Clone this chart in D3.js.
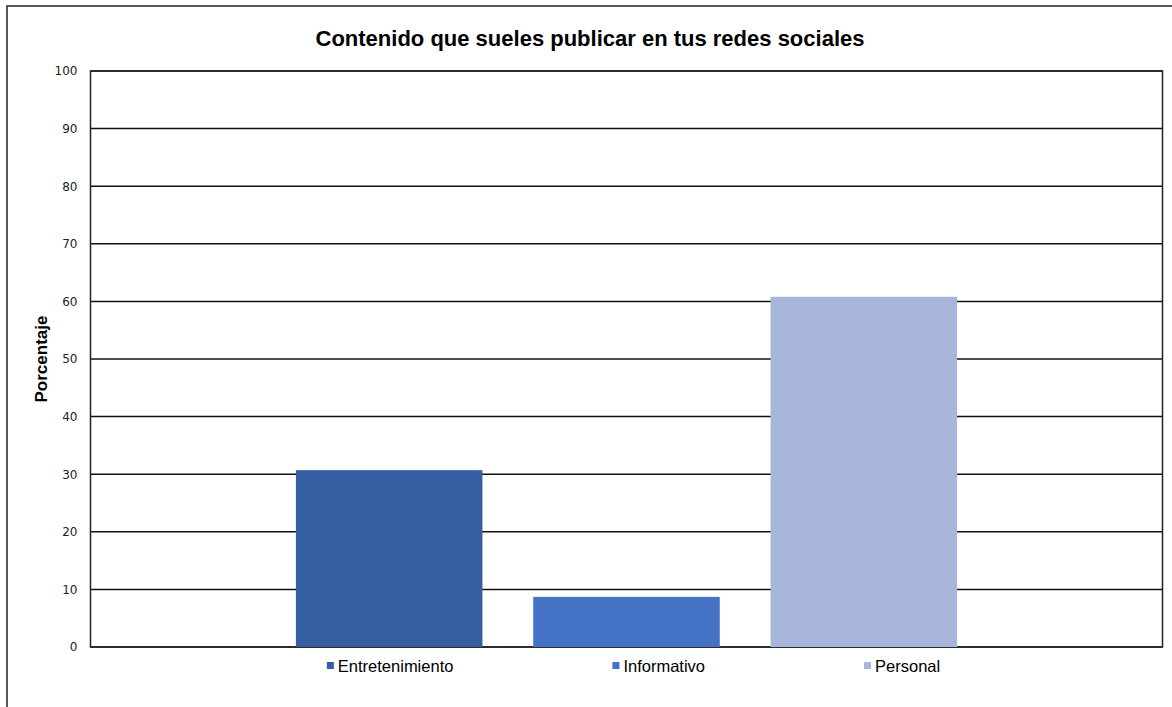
<!DOCTYPE html>
<html>
<head>
<meta charset="utf-8">
<script src="https://cdn.jsdelivr.net/npm/d3@7"></script>
<style>
  html, body { margin: 0; padding: 0; background: #fff; }
  svg { display: block; font-family: "Liberation Sans", Arial, sans-serif; }
</style>
</head>
<body>
<svg id="chart" width="1172" height="707"></svg>
<script>
// Survey results: type of content usually posted on social networks (%)
const series = ["Entretenimiento", "Informativo", "Personal"];
const values = [30.7, 8.7, 60.8];
const colors = ["#365EA2", "#4472C4", "#A8B6DB"];
const yTicks = [0, 10, 20, 30, 40, 50, 60, 70, 80, 90, 100];
const title = "Contenido que sueles publicar en tus redes sociales";
const yLabel = "Porcentaje";

const W = 1172, H = 707;
const plot = { left: 90.5, top: 71, right: 1162.5, bottom: 647 };

const svg = d3.select("#chart");

// Outer chart frame (runs past the right and bottom edges of the page)
svg.append("rect")
  .attr("x", 7).attr("y", 6)
  .attr("width", W + 20).attr("height", H + 20)
  .attr("fill", "none").attr("stroke", "#222").attr("stroke-width", 1.5);

const y = d3.scaleLinear().domain([0, 100]).range([plot.bottom, plot.top]);
const x = d3.scaleBand()
  .domain(series)
  .range([plot.left + 180, plot.right - 180])
  .paddingInner(0.214)
  .paddingOuter(0.107);

// Horizontal gridlines
svg.append("g")
  .selectAll("line")
  .data(yTicks)
  .join("line")
  .attr("x1", plot.left).attr("x2", plot.right)
  .attr("y1", d => y(d)).attr("y2", d => y(d))
  .attr("stroke", "#111").attr("stroke-width", 1.5);

// Plot area border
svg.append("rect")
  .attr("x", plot.left).attr("y", plot.top)
  .attr("width", plot.right - plot.left).attr("height", plot.bottom - plot.top)
  .attr("fill", "none").attr("stroke", "#222").attr("stroke-width", 1.5);

// Y axis tick labels
const yAxis = d3.axisLeft(y).tickValues(yTicks).tickSize(0).tickPadding(13);
const gy = svg.append("g")
  .attr("transform", `translate(${plot.left},0)`)
  .call(yAxis);
gy.select(".domain").remove();
gy.selectAll("text")
  .attr("font-family", "'DejaVu Sans', Verdana, sans-serif")
  .attr("font-size", 12).attr("fill", "#222");

// Bars
svg.append("g")
  .selectAll("rect")
  .data(series)
  .join("rect")
  .attr("x", d => x(d))
  .attr("width", x.bandwidth())
  .attr("y", (d, i) => y(values[i]))
  .attr("height", (d, i) => y(0) - y(values[i]))
  .attr("fill", (d, i) => colors[i]);

// Title
svg.append("text")
  .attr("x", 590).attr("y", 46)
  .attr("text-anchor", "middle")
  .attr("font-size", 22).attr("font-weight", "bold").attr("fill", "#000")
  .text(title);

// Y axis title
svg.append("text")
  .attr("transform", `translate(46.5,${(plot.top + plot.bottom) / 2}) rotate(-90)`)
  .attr("text-anchor", "middle")
  .attr("font-size", 17).attr("font-weight", "bold").attr("fill", "#000")
  .text(yLabel);

// Legend: items separated by a constant gap, centred below the plot
const legend = svg.append("g");
const items = legend.selectAll("g")
  .data(series)
  .join("g");
items.append("rect")
  .attr("width", 7).attr("height", 7)
  .attr("y", -10)
  .attr("fill", (d, i) => colors[i]);
items.append("text")
  .attr("x", 11)
  .attr("font-size", 16.5).attr("fill", "#000")
  .text(d => d);

const gap = 159;
let cursor = 0;
const offsets = [];
items.each(function () {
  const w = 11 + this.querySelector("text").getComputedTextLength();
  offsets.push(cursor);
  cursor += w + gap;
});
const totalW = cursor - gap;
const startX = 633.5 - totalW / 2;
items.attr("transform", (d, i) => `translate(${startX + offsets[i]},672)`);
</script>
</body>
</html>
